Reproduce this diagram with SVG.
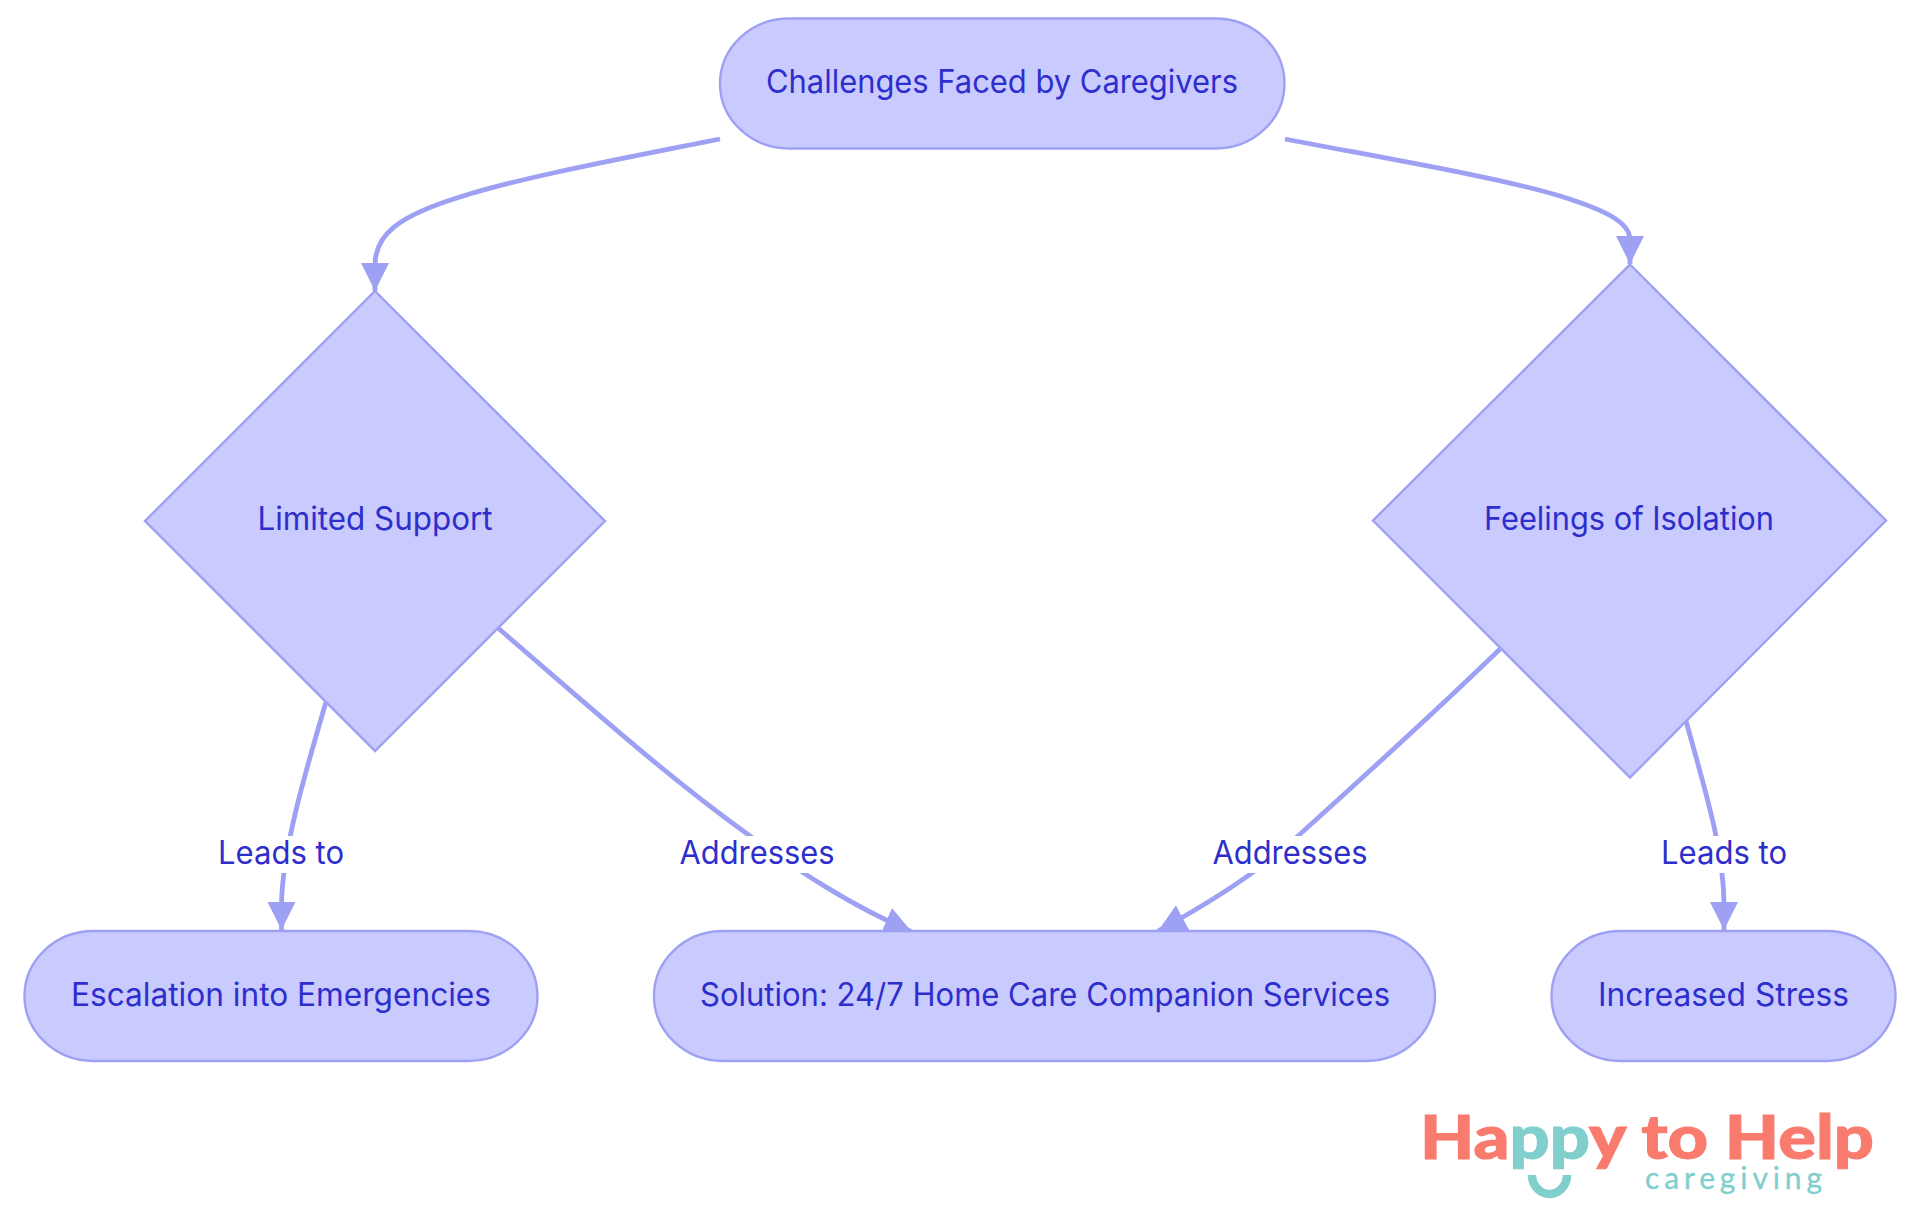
<svg xmlns="http://www.w3.org/2000/svg" width="1920" height="1215" viewBox="0 0 1920 1215">
<style>
.n{fill:#C9CAFE;stroke:#9EA1F3;stroke-width:2.4}
.t{font-family:Inter,"Noto Sans",sans-serif;font-size:32px;fill:#2E2ECC;text-anchor:middle}
.e{fill:none;stroke:#9EA1F3;stroke-width:4.8;marker-end:url(#arrow)}
.lb{fill:#fff}
.coral{fill:#F97B6D;stroke:#F97B6D}
.teal{fill:#80CFCD;stroke:#80CFCD}
</style>
<defs>
<marker id="arrow" markerUnits="userSpaceOnUse" viewBox="0 0 10 10" refX="10" refY="5" markerWidth="28" markerHeight="28" orient="auto"><path d="M0,0L10,5L0,10z" fill="#9EA1F3"/></marker>
</defs>
<rect width="1920" height="1215" fill="#fff"/>
<g id="connectors">
<path class="e" d="M720,139C600,163 520,178 460,197C398,216 375,235 375,265L375,291"/>
<path class="e" d="M1285,139C1400,161 1500,178 1560,196C1605,210 1630,222 1630,240L1630,264"/>
<path class="e" d="M326,702C306,770 282,850 281.500,905L281.500,930"/>
<path class="e" d="M498,628C590,707 665,775 750,836C800,872 850,905 912,932"/>
<path class="e" d="M1500,649C1430,717 1360,780 1298,836C1260,871 1215,900 1158,931"/>
<path class="e" d="M1686,721C1705,790 1724,850 1724,905L1724,930"/>
</g>
<g id="edge-labels">
<g id="label-leads-1"><rect class="lb" x="218" y="836" width="126" height="37"/><text class="t" x="281" y="864" textLength="126" lengthAdjust="spacingAndGlyphs">Leads to</text></g>
<g id="label-addresses-1"><rect class="lb" x="680" y="836" width="155" height="37"/><text class="t" x="757" y="864" textLength="155" lengthAdjust="spacingAndGlyphs">Addresses</text></g>
<g id="label-addresses-2"><rect class="lb" x="1213" y="836" width="155" height="37"/><text class="t" x="1290" y="864" textLength="155" lengthAdjust="spacingAndGlyphs">Addresses</text></g>
<g id="label-leads-2"><rect class="lb" x="1660" y="836" width="128" height="37"/><text class="t" x="1724" y="864" textLength="126" lengthAdjust="spacingAndGlyphs">Leads to</text></g>
</g>
<g id="node-challenges"><rect class="n" x="720" y="18.500" width="564.500" height="130" rx="69" ry="65"/><text class="t" x="1002" y="93" textLength="472" lengthAdjust="spacingAndGlyphs">Challenges Faced by Caregivers</text></g>
<g id="node-limited"><polygon class="n" points="375,291 605,521 375,751 145,521"/><text class="t" x="375" y="530" textLength="235" lengthAdjust="spacingAndGlyphs">Limited Support</text></g>
<g id="node-isolation"><polygon class="n" points="1630,264.500 1886,520.500 1630,777.500 1373,520.500"/><text class="t" x="1629" y="530" textLength="290" lengthAdjust="spacingAndGlyphs">Feelings of Isolation</text></g>
<g id="node-escalation"><rect class="n" x="24.500" y="931" width="513" height="130" rx="69" ry="65"/><text class="t" x="281" y="1006" textLength="420" lengthAdjust="spacingAndGlyphs">Escalation into Emergencies</text></g>
<g id="node-solution"><rect class="n" x="654" y="931" width="781" height="130" rx="69" ry="65"/><text class="t" x="1045" y="1006" textLength="690" lengthAdjust="spacingAndGlyphs">Solution: 24/7 Home Care Companion Services</text></g>
<g id="node-stress"><rect class="n" x="1551.500" y="931" width="344" height="130" rx="69" ry="65"/><text class="t" x="1723.500" y="1006" textLength="251" lengthAdjust="spacingAndGlyphs">Increased Stress</text></g>
<g id="logo">
<text x="1420" y="1159" font-family="Lato,sans-serif" font-weight="900" font-size="60" stroke-width="1" textLength="454" lengthAdjust="spacingAndGlyphs" class="coral">Ha<tspan class="teal">pp</tspan>y to Help</text>
<text x="1645" y="1189" font-family="Lato,sans-serif" font-weight="400" font-size="30" stroke-width="0.3" textLength="177" class="teal">caregiving</text>
<path d="M1532,1175A17.500,19 0 0 0 1567,1175" fill="none" stroke="#80CFCD" stroke-width="8.500"/>
</g>
</svg>
